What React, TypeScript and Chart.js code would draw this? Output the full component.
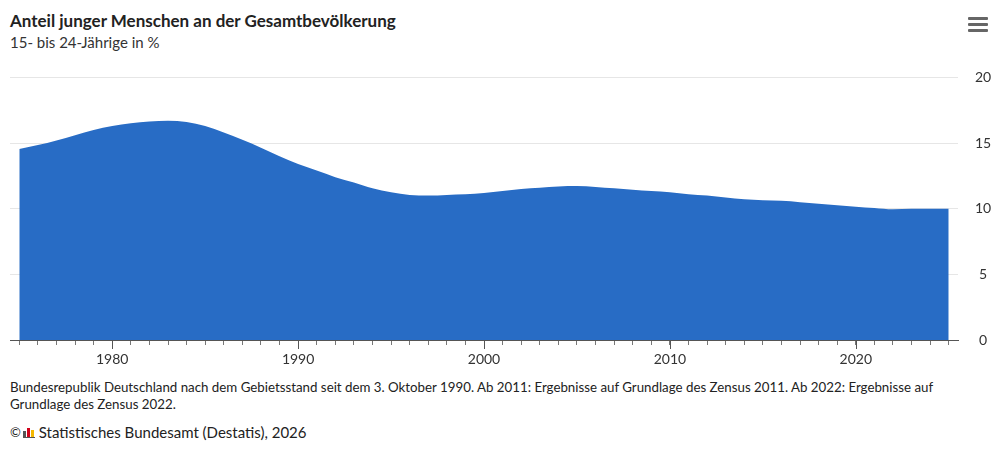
import React, { useEffect, useRef } from "react";
import { Chart, registerables } from "chart.js";

Chart.register(...registerables);

const years: number[] = [
  1975, 1976, 1977, 1978, 1979, 1980, 1981, 1982, 1983, 1984,
  1985, 1986, 1987, 1988, 1989, 1990, 1991, 1992, 1993, 1994,
  1995, 1996, 1997, 1998, 1999, 2000, 2001, 2002, 2003, 2004,
  2005, 2006, 2007, 2008, 2009, 2010, 2011, 2012, 2013, 2014,
  2015, 2016, 2017, 2018, 2019, 2020, 2021, 2022, 2023, 2024, 2025,
];

const shareYoung: number[] = [
  14.55, 14.85, 15.2, 15.6, 16.0, 16.3, 16.5, 16.65, 16.7, 16.6,
  16.3, 15.8, 15.25, 14.65, 14.0, 13.4, 12.9, 12.4, 12.0, 11.55,
  11.25, 11.05, 11.0, 11.05, 11.1, 11.2, 11.35, 11.5, 11.6, 11.7,
  11.72, 11.65, 11.55, 11.45, 11.35, 11.25, 11.1, 11.0, 10.85, 10.72,
  10.65, 10.6, 10.5, 10.38, 10.27, 10.15, 10.05, 9.95, 10.0, 10.0, 10.0,
];

const yTicks: number[] = [0, 5, 10, 15, 20];
const labelYears: number[] = [1980, 1990, 2000, 2010, 2020];

const TITLE = "Anteil junger Menschen an der Gesamtbevölkerung";
const SUBTITLE = "15- bis 24-Jährige in %";
const NOTE_1 =
  "Bundesrepublik Deutschland nach dem Gebietsstand seit dem 3. Oktober 1990. Ab 2011: Ergebnisse auf Grundlage des Zensus 2011. Ab 2022: Ergebnisse auf";
const NOTE_2 = "Grundlage des Zensus 2022.";
const SOURCE = "Statistisches Bundesamt (Destatis), 2026";

const FONT = "Lato, 'Open Sans', sans-serif";

const majorTickPlugin = {
  id: "majorTicks",
  afterDraw(chart: any) {
    const x = chart.scales.x;
    const ctx = chart.ctx;
    ctx.save();
    ctx.strokeStyle = "#555";
    ctx.lineWidth = 1;
    labelYears.forEach((yr) => {
      const px = Math.round(x.getPixelForValue(yr)) + 0.5;
      ctx.beginPath();
      ctx.moveTo(px, x.top);
      ctx.lineTo(px, x.top + 9);
      ctx.stroke();
    });
    ctx.restore();
  },
};

function AreaChart() {
  const ref = useRef<HTMLCanvasElement | null>(null);
  useEffect(() => {
    if (!ref.current) return;
    const chart = new Chart(ref.current, {
      type: "line",
      data: {
        labels: years,
        datasets: [
          {
            data: years.map((y, i) => ({ x: y, y: shareYoung[i] })),
            backgroundColor: "#286cc5",
            borderColor: "#286cc5",
            borderWidth: 0,
            pointRadius: 0,
            fill: "origin",
            tension: 0.4,
            cubicInterpolationMode: "monotone",
          },
        ],
      },
      options: {
        animation: false,
        responsive: false,
        maintainAspectRatio: false,
        devicePixelRatio: 1,
        layout: { padding: { left: 10, top: 9, right: 0, bottom: 0 } },
        plugins: {
          legend: { display: false },
          tooltip: { enabled: false },
          title: { display: false },
        },
        scales: {
          x: {
            type: "linear",
            min: 1974.5,
            max: 2025.5,
            afterBuildTicks: (scale: any) => {
              scale.ticks = years.map((v) => ({ value: v }));
            },
            afterFit: (scale: any) => {
              scale.height = 30;
            },
            border: { display: true, color: "#555", width: 1 },
            grid: {
              drawOnChartArea: false,
              drawTicks: true,
              tickLength: 5,
              color: "#777",
            },
            ticks: {
              autoSkip: false,
              maxRotation: 0,
              padding: 6,
              color: "#333",
              font: { family: FONT, size: 14 },
              callback: (v: any) => (Number(v) % 10 === 0 ? String(v) : ""),
            },
          },
          y: {
            position: "right",
            min: 0,
            max: 20,
            afterBuildTicks: (scale: any) => {
              scale.ticks = yTicks.map((v) => ({ value: v }));
            },
            afterFit: (scale: any) => {
              scale.width = 42;
            },
            border: { display: false },
            grid: {
              color: "#e6e6e6",
              drawTicks: false,
            },
            ticks: {
              crossAlign: "center",
              padding: 17,
              color: "#333",
              font: { family: FONT, size: 14 },
              callback: (v: any) => String(v),
            },
          },
        },
      },
      plugins: [majorTickPlugin],
    } as any);
    return () => chart.destroy();
  }, []);
  return (
    <canvas
      ref={ref}
      width={1000}
      height={318}
      style={{ position: "absolute", left: 0, top: 52, width: 1000, height: 318 }}
    />
  );
}

export default function App() {
  return (
    <div
      style={{
        position: "fixed",
        left: 0,
        top: 0,
        width: 1000,
        height: 449,
        background: "#fff",
        fontFamily: FONT,
        color: "#333",
        overflow: "hidden",
      }}
    >
      <div
        style={{
          position: "absolute",
          left: 10,
          top: 10,
          fontSize: 17,
          fontWeight: 700,
          color: "#222",
          whiteSpace: "nowrap",
        }}
      >
        {TITLE}
      </div>
      <div
        style={{
          position: "absolute",
          left: 10,
          top: 33,
          fontSize: 15,
          color: "#333",
          whiteSpace: "nowrap",
        }}
      >
        {SUBTITLE}
      </div>
      <div style={{ position: "absolute", left: 968, top: 17, width: 20 }}>
        {[0, 6, 12].map((t) => (
          <div
            key={t}
            style={{
              position: "absolute",
              left: 0,
              top: t,
              width: 20,
              height: 3,
              background: "#666",
              borderRadius: 1,
            }}
          />
        ))}
      </div>
      <AreaChart />
      <div
        style={{
          position: "absolute",
          left: 10,
          top: 379,
          fontSize: 13.3,
          lineHeight: "17px",
          color: "#222",
          whiteSpace: "nowrap",
        }}
      >
        {NOTE_1}
        <br />
        {NOTE_2}
      </div>
      <div
        style={{
          position: "absolute",
          left: 10,
          top: 423,
          fontSize: 15,
          lineHeight: "18px",
          color: "#222",
          whiteSpace: "nowrap",
          display: "flex",
          alignItems: "center",
        }}
      >
        <span style={{ fontSize: 13 }}>©</span>
        <span
          style={{
            position: "relative",
            display: "inline-block",
            width: 12,
            height: 11,
            marginLeft: 2,
            marginRight: 4,
          }}
        >
          <span style={{ position: "absolute", left: 0, bottom: 0, width: 3, height: 7, background: "#555" }} />
          <span style={{ position: "absolute", left: 4, bottom: 0, width: 3, height: 10, background: "#d0021b" }} />
          <span style={{ position: "absolute", left: 8, bottom: 0, width: 3, height: 8, background: "#f5b800" }} />
          <span style={{ position: "absolute", left: 0, bottom: 0, width: 12, height: 1, background: "#555" }} />
        </span>
        <span>{SOURCE}</span>
      </div>
    </div>
  );
}
